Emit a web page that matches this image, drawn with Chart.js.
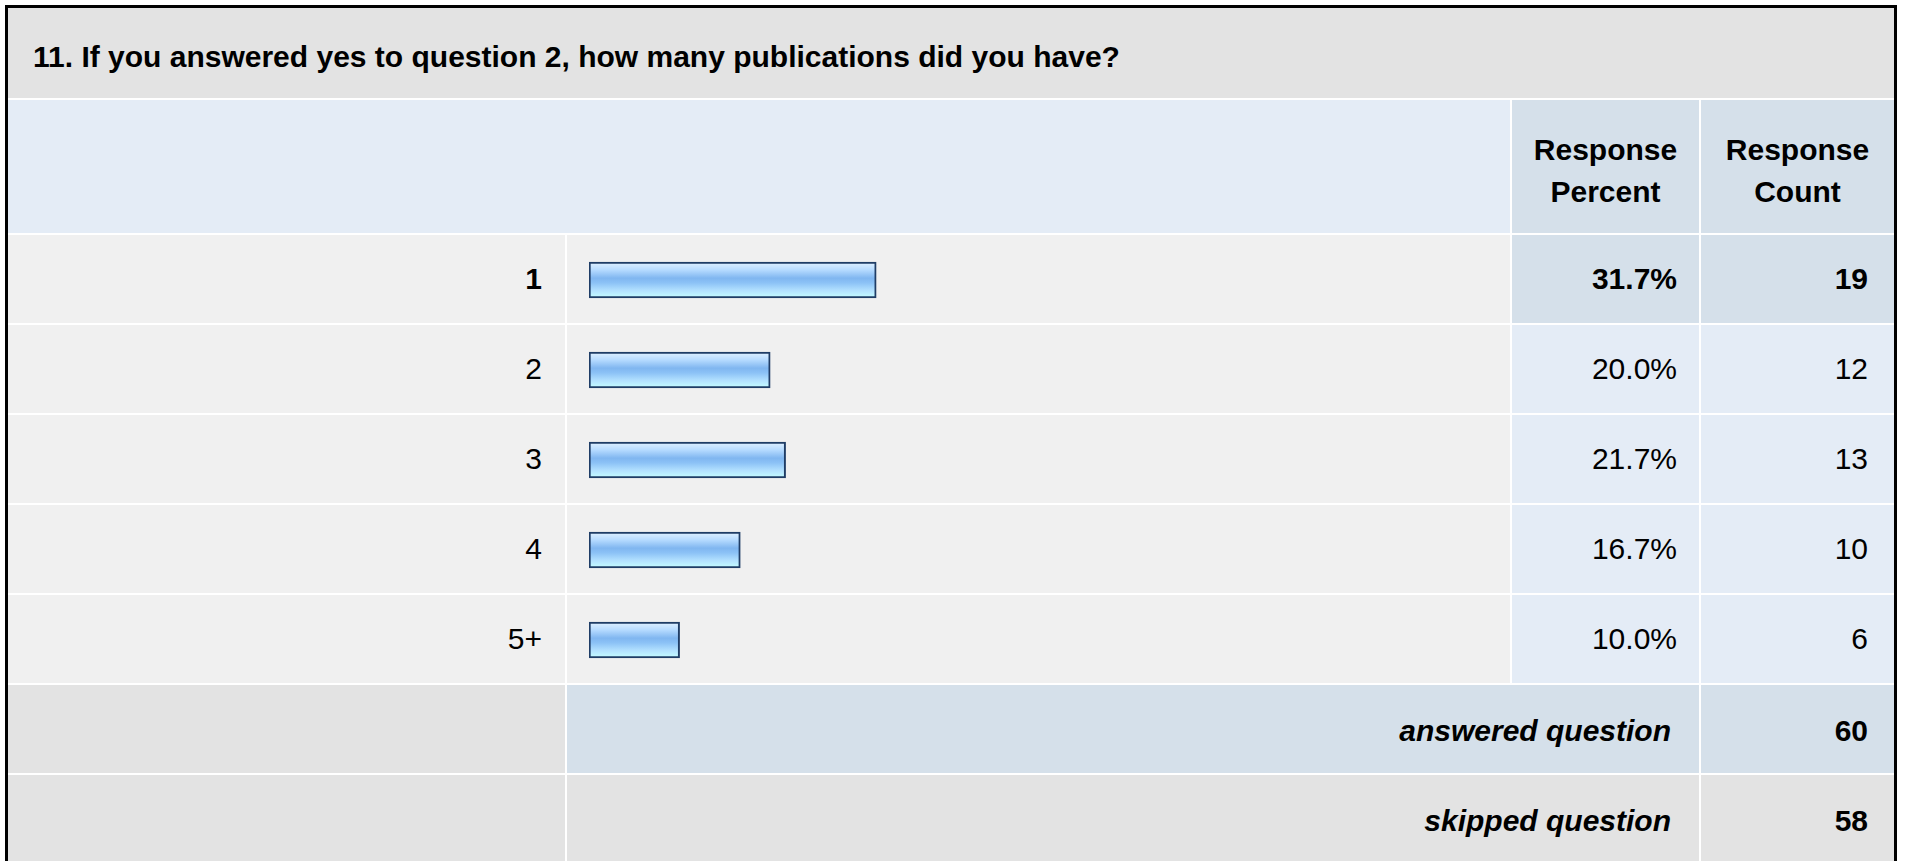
<!DOCTYPE html>
<html>
<head>
<meta charset="utf-8">
<title>Question 11</title>
<script src="https://cdn.jsdelivr.net/npm/chart.js"></script>
<style>
    html, body { margin: 0; padding: 0; background: #ffffff; }
    body { width: 1907px; height: 861px; overflow: hidden; position: relative;
        font-family: "Liberation Sans", Arial, Helvetica, sans-serif; color: #000; }
    .frame { position: absolute; left: 5px; top: 5px; width: 1892px; height: 900px;
        border: 3px solid #000; box-sizing: border-box; }
    .cell { position: absolute; display: flex; align-items: center; box-sizing: border-box;
        font-size: 30px; white-space: nowrap; }
    .right { justify-content: flex-end; }
    .center { justify-content: center; text-align: center; }
    .bold { font-weight: bold; }
    .gray { background: #e3e3e3; }
    .light { background: #f0f0f0; }
    .blue { background: #e4ecf6; }
    .blue2 { background: #d5e0ea; }
    #chartBox { position: absolute; left: 567px; top: 235px; width: 943px; height: 450px; }
</style>
</head>
<body>
<div class="frame"></div>
<div id="table"></div>
<div id="chartBox"><canvas id="myChart"></canvas></div>
<script>
const question = '11. If you answered yes to question 2, how many publications did you have?';
const answers = ['1', '2', '3', '4', '5+'];
const percents = [31.7, 20.0, 21.7, 16.7, 10.0];
const counts = [19, 12, 13, 10, 6];
const answered = 60;
const skipped = 58;

// column edges (page px)
const colLabel = [8, 565];
const colBar = [567, 1510];
const colPct = [1512, 1699];
const colCnt = [1701, 1894];

const table = document.getElementById('table');
function addCell(x0, x1, y0, y1, cls, html, pad) {
    const d = document.createElement('div');
    d.className = 'cell ' + cls;
    d.style.left = x0 + 'px';
    d.style.top = y0 + 'px';
    d.style.width = (x1 - x0) + 'px';
    d.style.height = (y1 - y0) + 'px';
    if (pad) d.style.padding = pad;
    d.innerHTML = html || '';
    table.appendChild(d);
    return d;
}

// title bar
addCell(8, 1894, 8, 98, 'gray bold', question, '7px 0 0 25px');
// header
addCell(8, colBar[1], 100, 233, 'blue', '');
addCell(colPct[0], colPct[1], 100, 233, 'blue2 bold center', 'Response<br>Percent', '8px 0 0 0').style.lineHeight = '42px';
addCell(colCnt[0], colCnt[1], 100, 233, 'blue2 bold center', 'Response<br>Count', '8px 0 0 0').style.lineHeight = '42px';

// answer rows
const maxCount = Math.max(...counts);
answers.forEach(function(a, i) {
    const y0 = 235 + i * 90, y1 = y0 + 88;
    const b = counts[i] == maxCount ? ' bold' : '';
    const bg = counts[i] == maxCount ? 'blue2' : 'blue';
    addCell(colLabel[0], colLabel[1], y0, y1, 'light right' + b, a, '0 23px 0 0');
    addCell(colBar[0], colBar[1], y0, y1, 'light', '');
    addCell(colPct[0], colPct[1], y0, y1, bg + ' right' + b, percents[i].toFixed(1) + '%', '0 22px 0 0');
    addCell(colCnt[0], colCnt[1], y0, y1, bg + ' right' + b, counts[i], '0 26px 0 0');
});

// totals
addCell(colLabel[0], colLabel[1], 685, 773, 'gray', '');
addCell(colBar[0], colPct[1], 685, 773, 'blue2 right bold', '<i>answered question</i>', '4px 28px 0 0');
addCell(colCnt[0], colCnt[1], 685, 773, 'blue2 right bold', answered, '4px 26px 0 0');
addCell(colLabel[0], colLabel[1], 775, 861, 'gray', '');
addCell(colBar[0], colPct[1], 775, 861, 'gray right bold', '<i>skipped question</i>', '6px 28px 0 0');
addCell(colCnt[0], colCnt[1], 775, 861, 'gray right bold', skipped, '6px 26px 0 0');

// glossy bar fill, one gradient per bar
function barFill(c) {
    const chart = c.chart;
    if (!chart.chartArea || !chart.scales.y) return '#9cc8f4';
    const y = chart.scales.y.getPixelForValue(c.dataIndex);
    const g = chart.ctx.createLinearGradient(0, y - 18, 0, y + 18);
    g.addColorStop(0, '#e2f2ff');
    g.addColorStop(0.22, '#b6dbff');
    g.addColorStop(0.45, '#80b6f0');
    g.addColorStop(0.58, '#8cc2f6');
    g.addColorStop(0.8, '#b4e2ff');
    g.addColorStop(1, '#c6ffff');
    return g;
}

const ctx = document.getElementById('myChart');
const myChart = new Chart(ctx, {
    type: 'bar',
    data: {
        labels: answers,
        datasets: [{
            label: 'Response Percent',
            data: percents,
            backgroundColor: barFill,
            borderColor: '#1f3d66',
            borderWidth: 2,
            borderSkipped: false,
            barThickness: 36,
        }]
    },
    options: {
        indexAxis: 'y',
        responsive: true,
        maintainAspectRatio: false,
        animation: false,
        layout: { padding: { left: 22, right: 15, top: 0, bottom: 0 } },
        plugins: { legend: { display: false }, tooltip: { enabled: false } },
        scales: {
            x: { min: 0, max: 100, display: false },
            y: { display: false }
        }
    }
});
</script>
</body>
</html>
